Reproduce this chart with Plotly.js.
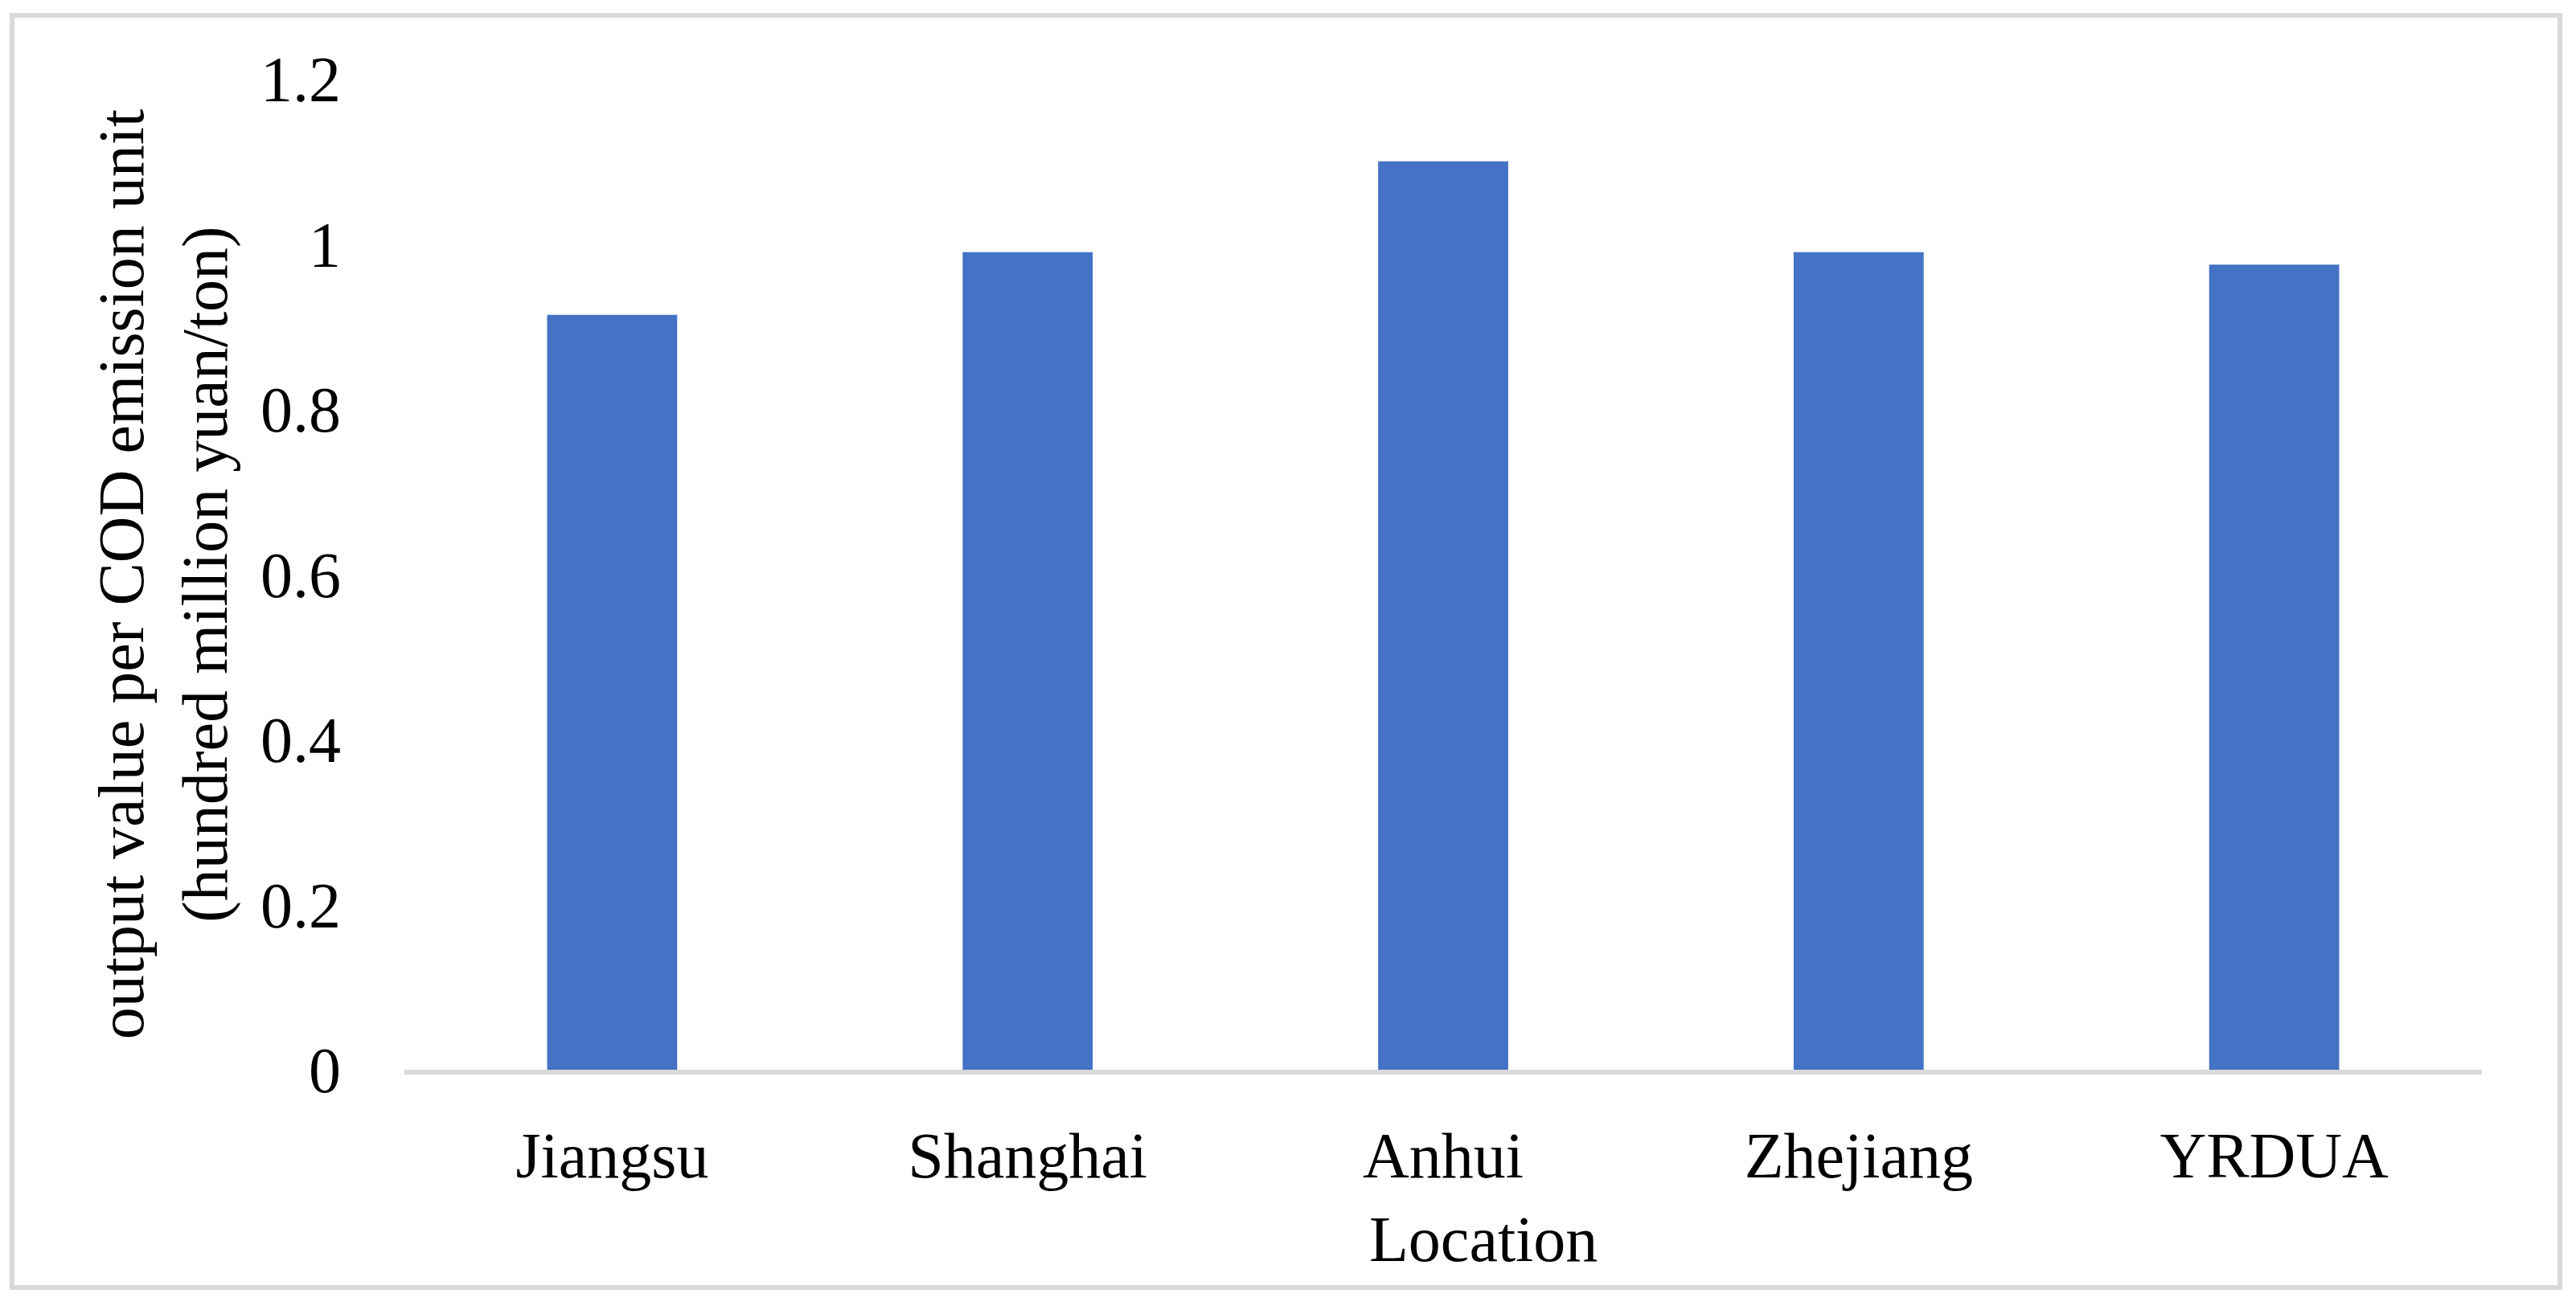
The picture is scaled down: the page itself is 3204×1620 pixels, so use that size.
<!DOCTYPE html>
<html>
<head>
<meta charset="utf-8">
<script src="https://cdn.plot.ly/plotly-3.0.1.min.js"></script>
<style>
  body { margin: 0; background: #fff; }
  #chart { width: 3204px; height: 1620px; position: absolute; left: 0; top: 0; }
  /* light grey frame round the whole figure */
  #frame {
    position: absolute; left: 12px; top: 16px; width: 3175px; height: 1589px;
    border: 6px solid #d9d9d9; box-sizing: border-box; pointer-events: none;
  }
</style>
</head>
<body>
<div id="chart"></div>
<div id="frame"></div>
<script>
// data
var locations = ["Jiangsu", "Shanghai", "Anhui", "Zhejiang", "YRDUA"];
var outputPerCOD = [0.914, 0.99, 1.10, 0.99, 0.975];
var yTicks = [0, 0.2, 0.4, 0.6, 0.8, 1, 1.2];
var yTickText = ["0", "0.2", "0.4", "0.6", "0.8", "1", "1.2"];

var font = "Liberation Serif, Times New Roman, serif";

var trace = {
    x: locations,
    y: outputPerCOD,
    type: "bar",
    marker: {color: "#4472C4"},
    hoverinfo: "x+y"
};

var margin = {l: 503, r: 117, t: 98, b: 289};

var layout = {
    width: 3204,
    height: 1620,
    margin: margin,
    paper_bgcolor: "#fff",
    plot_bgcolor: "#fff",
    bargap: 0.687,
    showlegend: false,
    font: {family: font, size: 80, color: "#000"},
    xaxis: {
        showgrid: false,
        zeroline: false,
        showline: true,
        linecolor: "#d9d9d9",
        linewidth: 6,
        ticks: "",
        ticklabelstandoff: 32,
        tickfont: {family: font, size: 80, color: "#000"}
    },
    yaxis: {
        range: [0, 1.2],
        tickvals: yTicks,
        ticktext: yTickText,
        showgrid: false,
        zeroline: false,
        showline: false,
        ticks: "",
        ticklabelstandoff: 78,
        tickfont: {family: font, size: 80, color: "#000"},
        title: {
            text: "output value per COD emission unit<br>(hundred million yuan/ton)",
            font: {family: font, size: 80, color: "#000"},
            standoff: 15
        }
    },
    annotations: [{
        text: "Location",
        xref: "paper", yref: "paper",
        x: (1845 - margin.l) / (3204 - margin.l - margin.r),
        y: -0.171,
        xanchor: "center", yanchor: "middle",
        showarrow: false,
        font: {family: font, size: 80, color: "#000"}
    }]
};

Plotly.newPlot("chart", [trace], layout, {staticPlot: true});
</script>
</body>
</html>
